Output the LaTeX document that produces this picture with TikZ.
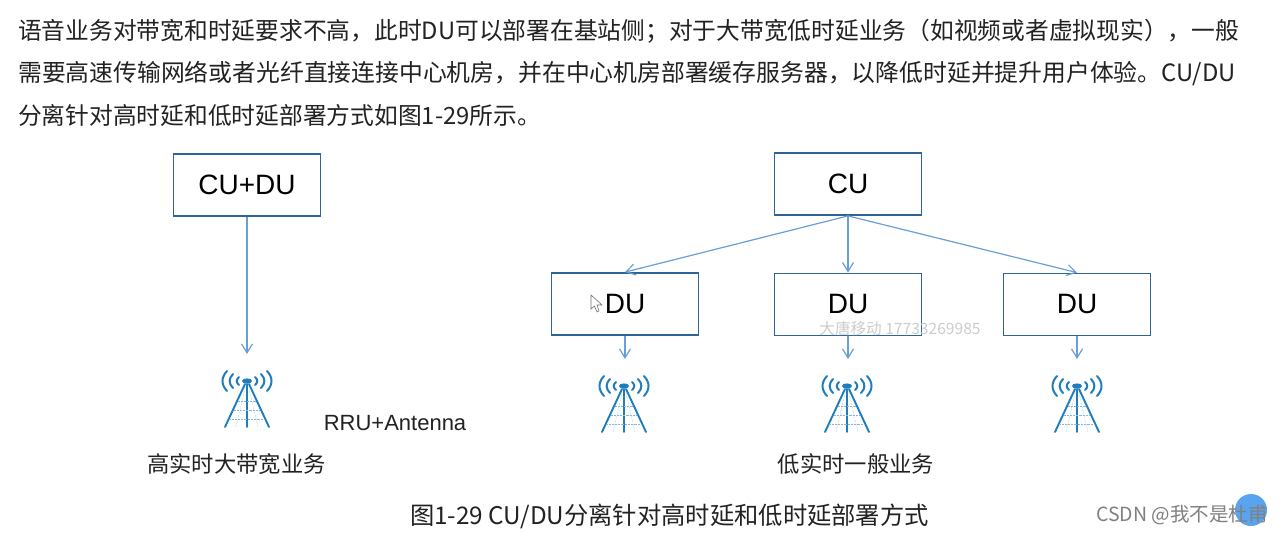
\documentclass[tikz,border=0pt]{standalone}
\usepackage{fontspec}
\setmainfont{Liberation Sans}
\newfontfamily\cjk{Noto Sans CJK SC}
\usetikzlibrary{arrows.meta}
\definecolor{boxblue}{HTML}{2F6496}
\definecolor{linkblue}{HTML}{6A9FD6}
\definecolor{antblue}{HTML}{1F7DBE}
\definecolor{inktext}{HTML}{222222}
\definecolor{badge}{HTML}{5AA3EE}
\tikzset{
  x=1pt,y=-1pt,
  unitbox/.style={draw=boxblue,line width=1.8pt,minimum width=147pt,minimum height=62pt,inner sep=0pt,text=black,font=\fontsize{28}{30}\selectfont},
  link/.style={draw=linkblue,line width=1.2pt,-{Straight Barb[length=9pt,width=11pt,line width=1.2pt]}},
  para/.style={anchor=west,inner sep=0pt,text=inktext,font=\cjk\fontsize{23.75}{26}\selectfont},
  lab/.style={inner sep=0pt,text=inktext,font=\cjk\fontsize{22.3}{26}\selectfont},
  mast/.style={draw=antblue,line width=1.9pt,line cap=round},
  wave/.style={draw=antblue,line width=2pt,line cap=round},
  lattice/.style={draw=antblue!55,line width=.45pt,densely dotted},
  pics/antenna/.style={code={
    \fill[antblue] (0,0) ellipse (5pt and 2.6pt);
    \draw[mast] (-2,3) -- (-22,46);
    \draw[mast] (2,3) -- (22,46);
    \draw[mast] (0,3) -- (0,46);
    \draw[lattice] (-1,3) -- (-11,46);
    \draw[lattice] (1,3) -- (11,46);
    \draw[lattice] (-9,20) -- (9,20);
    \draw[lattice] (-13,29) -- (13,29);
    \draw[lattice] (-18,38) -- (18,38);
    \foreach \s in {-1,1}{
      \draw[wave] (\s*8,-4) .. controls (\s*11,-1.5) and (\s*11,1.5) .. (\s*8,4);
      \draw[wave] (\s*14,-7) .. controls (\s*18.5,-2.5) and (\s*18.5,2.5) .. (\s*14,7);
      \draw[wave] (\s*20,-10) .. controls (\s*26,-3.5) and (\s*26,3.5) .. (\s*20,10);
    }
  }}
}
\begin{document}
\begin{tikzpicture}
\useasboundingbox (0,0) rectangle (1284,535);
\fill[white] (0,0) rectangle (1284,535);
% paragraph
\node[para] (l1) at (18,31) {语音业务对带宽和时延要求不高，此时DU可以部署在基站侧；对于大带宽低时延业务（如视频或者虚拟现实），一般};
\node[para,font=\cjk\fontsize{23.82}{26}\selectfont] (l2) at (18,73) {需要高速传输网络或者光纤直接连接中心机房，并在中心机房部署缓存服务器，以降低时延并提升用户体验。CU/DU};
\node[para] (l3) at (18,115) {分离针对高时延和低时延部署方式如图1-29所示。};
% boxes
\node[unitbox] (cudu) at (247,185) {CU+DU};
\node[unitbox] (cu) at (848,184) {CU};
\node[unitbox] (du1) at (625,304) {};
\node[font=\fontsize{28}{30}\selectfont,inner sep=0pt] (du1t) at (625,304.5) {DU};
\node[unitbox] (du2) at (848,304.5) {DU};
\node[unitbox] (du3) at (1077,304.5) {DU};
% free ends
\coordinate (a0) at (247,354);
\coordinate (a1) at (625,359);
\coordinate (a2) at (848,359);
\coordinate (a3) at (1077,359);
% antennas
\pic at (247,381) {antenna};
\pic at (624,386) {antenna};
\pic at (847,386) {antenna};
\pic at (1077,386) {antenna};
% connectors
\draw[link] (cudu.south) -- (a0);
\draw[link] (cu.south) -- (du1.north);
\draw[link] (cu.south) -- (du2.north);
\draw[link] (cu.south) -- (du3.north);
\draw[link] (du1.south) -- (a1);
\draw[link] (du2.south) -- (a2);
\draw[link] (du3.south) -- (a3);
% pointer
\draw[draw=black!55,fill=white,line width=.6pt] (591,295) -- (591,309) -- (594.5,306) -- (597,312) -- (599,311) -- (597,305) -- (602,305) -- cycle;
% labels
\node[inner sep=0pt,text=inktext,font=\fontsize{22}{24}\selectfont] (rru) at (395,423) {RRU+Antenna};
\node[lab] (hi) at (236.5,464) {高实时大带宽业务};
\node[lab] (lo) at (856,464) {低实时一般业务};
\node[lab,font=\cjk\fontsize{24.3}{26}\selectfont] (cap) at (669.5,516) {图1-29 CU/DU分离针对高时延和低时延部署方式};
% watermarks
\node[inner sep=0pt,text=black!20,font=\cjk\fontsize{15.6}{17}\selectfont] (wm) at (900,328) {大唐移动 17733269985};
\fill[badge] (1251,510) circle (16pt);
\node[anchor=east,inner sep=0pt,text=black!50,font=\cjk\fontsize{19.5}{22}\selectfont] (csdn) at (1268,515) {CSDN @我不是杜甫};
\end{tikzpicture}
\end{document}
